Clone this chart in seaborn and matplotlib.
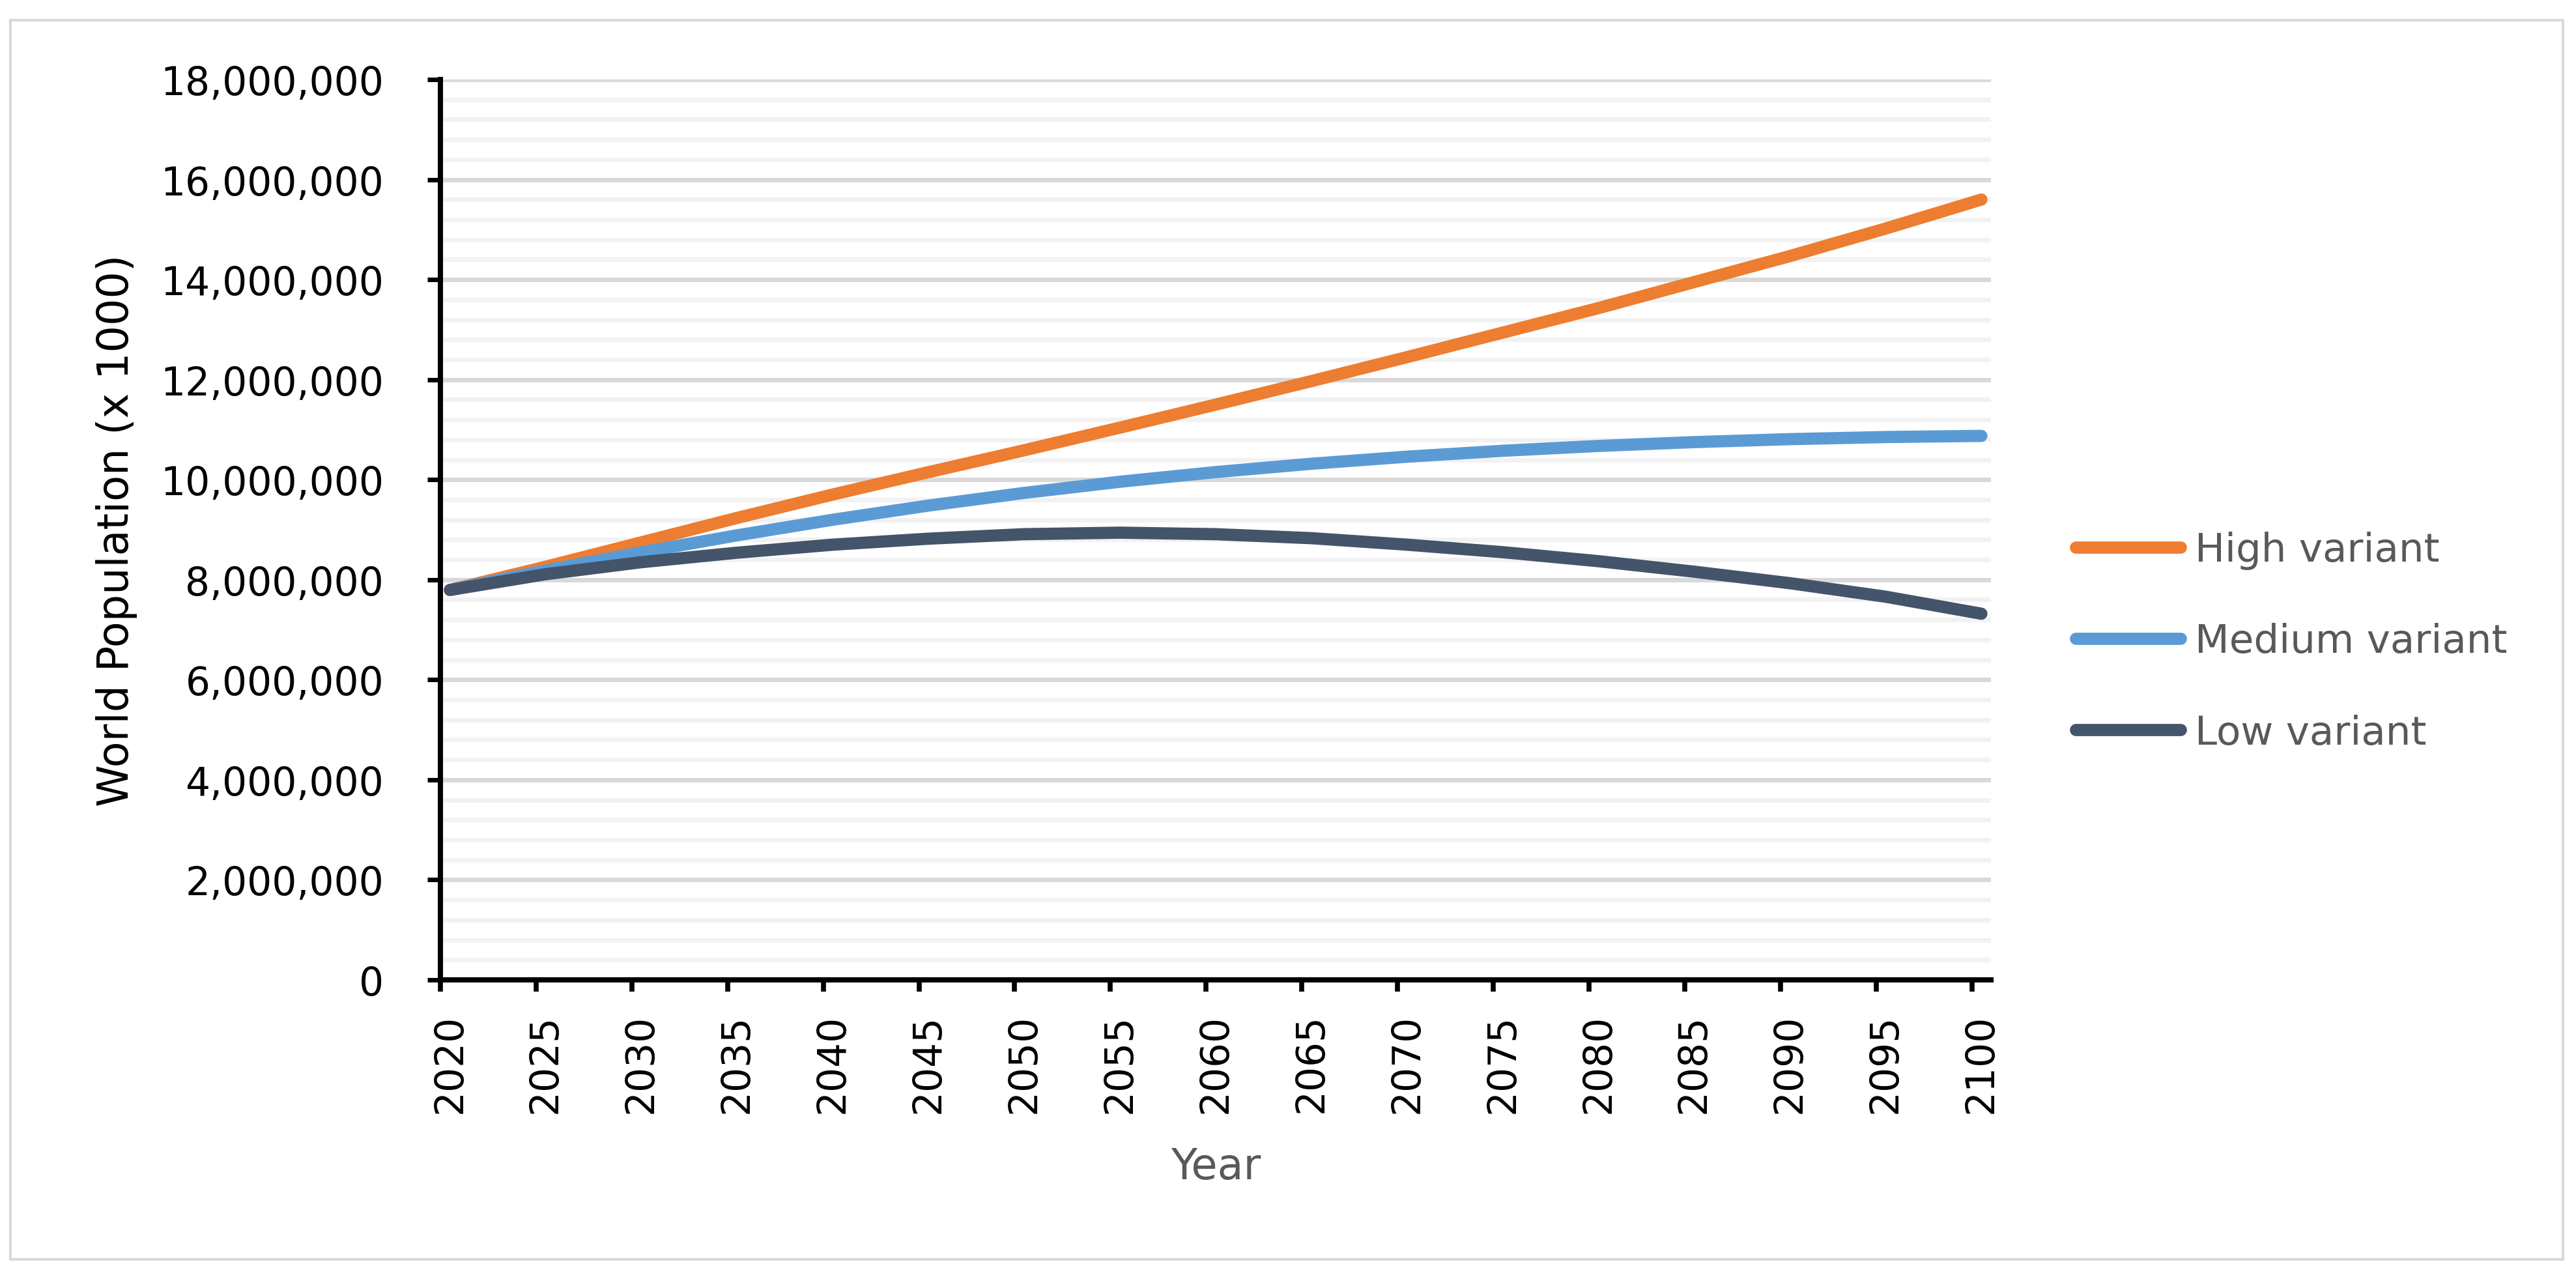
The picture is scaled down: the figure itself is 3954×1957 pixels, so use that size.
import numpy as np
import matplotlib
matplotlib.use("Agg")
import matplotlib.pyplot as plt
import pandas as pd
import seaborn as sns
from matplotlib.ticker import MultipleLocator, FuncFormatter, FixedLocator
from matplotlib.lines import Line2D
from matplotlib.patches import Rectangle

years = [2020, 2025, 2030, 2035, 2040, 2045, 2050, 2055, 2060,
         2065, 2070, 2075, 2080, 2085, 2090, 2095, 2100]
# world population, thousands
high = [7794799, 8259000, 8747000, 9235000, 9703000, 10150000, 10588000, 11040000, 11500000,
        11970000, 12450000, 12940000, 13430000, 13950000, 14470000, 15020000, 15600000]
medium = [7794799, 8184437, 8548487, 8887524, 9198847, 9481803, 9735034, 9958099, 10151470,
          10317879, 10459240, 10577288, 10673904, 10750662, 10809892, 10851860, 10875394]
low = [7794799, 8110000, 8350000, 8540000, 8700000, 8820000, 8910000, 8940000, 8910000,
       8830000, 8700000, 8550000, 8370000, 8160000, 7930000, 7660000, 7320000]
variants = ["High variant", "Medium variant", "Low variant"]
colors = {"High variant": "#ED7D31", "Medium variant": "#5B9BD5", "Low variant": "#44546A"}

df = pd.concat([
    pd.DataFrame({"Year": years, "Population": high, "variant": "High variant"}),
    pd.DataFrame({"Year": years, "Population": medium, "variant": "Medium variant"}),
    pd.DataFrame({"Year": years, "Population": low, "variant": "Low variant"}),
])

sns.set_theme(style="white")
plt.rcParams["font.family"] = ["DejaVu Sans"]

fig = plt.figure(figsize=(39.55, 19.58), dpi=100)
ax = fig.add_axes([0.17092, 0.23136, 0.60177, 0.70582])

sns.lineplot(data=df, x="Year", y="Population", hue="variant", hue_order=variants,
             palette=colors, linewidth=13.5, solid_capstyle="round", solid_joinstyle="round",
             legend=False, ax=ax, zorder=3)

ax.set_xlim(2019.5, 2100.5)
ax.set_ylim(0, 18000000)

# y axis
ax.yaxis.set_major_locator(MultipleLocator(2000000))
ax.yaxis.set_minor_locator(MultipleLocator(400000))
ax.yaxis.set_major_formatter(FuncFormatter(lambda v, p: f"{v:,.0f}"))
ax.grid(which="minor", axis="y", color="#F2F2F2", linewidth=5, zorder=0)
ax.grid(which="major", axis="y", color="#D9D9D9", linewidth=5, zorder=1)
ax.grid(False, axis="x", which="both")
ax.tick_params(axis="y", which="major", length=14.5, width=5, color="black",
               direction="out", pad=48, labelsize=43, labelcolor="black", left=True)
ax.tick_params(axis="y", which="minor", length=0)

# x axis: labels at category centres, tick marks at category edges
ax.xaxis.set_major_locator(FixedLocator(years))
ax.xaxis.set_minor_locator(FixedLocator([y - 0.5 for y in years]))
ax.tick_params(axis="x", which="major", length=0, pad=37, labelsize=43,
               labelcolor="black", labelrotation=90, bottom=True)
ax.tick_params(axis="x", which="minor", length=13, width=5.5, color="black",
               direction="out", bottom=True)

for side in ["top", "right"]:
    ax.spines[side].set_visible(False)
for side in ["left", "bottom"]:
    ax.spines[side].set_color("black")
    ax.spines[side].set_linewidth(5.8)
    ax.spines[side].set_zorder(4)

ax.set_xlabel("")
ax.set_ylabel("")
fig.text(179 / 3955, 1 - 814 / 1958, "World Population (x 1000)", rotation=90,
         ha="center", va="center", fontsize=47, color="black")
fig.text(1866 / 3955, 1 - 1810 / 1958, "Year", ha="center", va="baseline",
         fontsize=47, color="#595959")

handles = [Line2D([0], [0], color=colors[v], linewidth=13.5, solid_capstyle="round") for v in variants]
leg = fig.legend(handles, variants, loc="center left", bbox_to_anchor=(3186 / 3955, 1 - 986 / 1958),
                 frameon=False, fontsize=44, handlelength=2.64, handletextpad=0.35,
                 labelspacing=1.33, borderpad=0, borderaxespad=0)
for t in leg.get_texts():
    t.set_color("#595959")

fig.patches.append(Rectangle((16 / 3955, 1 - 1934 / 1958), (3934 - 16) / 3955, (1934 - 32) / 1958,
                             transform=fig.transFigure, fill=False, edgecolor="#D9D9D9",
                             linewidth=3, zorder=0))

fig.savefig("out.png", dpi=100, facecolor="white")
